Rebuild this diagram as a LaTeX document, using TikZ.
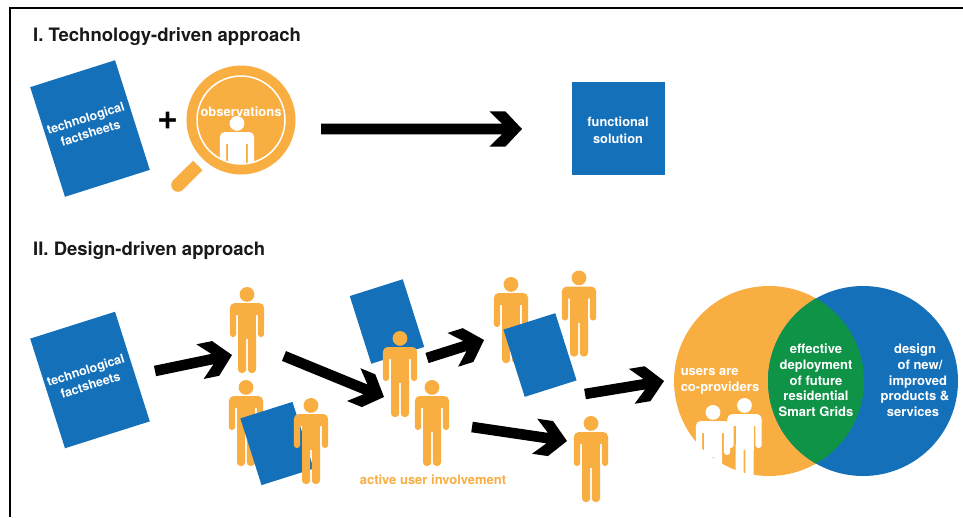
\documentclass[tikz,border=0pt]{standalone}
\usepackage{fontspec}
\setmainfont{TeX Gyre Heros}
\usetikzlibrary{calc}
\definecolor{figblue}{HTML}{1570BA}
\definecolor{figorange}{HTML}{F9AE42}
\definecolor{figgreen}{HTML}{0F9347}
\newcommand{\fatarrow}[2]{%
  \fill[fatarrowstyle]
    ($(#1)!5.3pt!90:(#2)$) -- ($(#2)!20pt!(#1)!5.3pt!90:(#2)$)
    -- ($(#2)!32.7pt!(#1)!17.7pt!90:(#2)$) -- ($(#2)!16.7pt!(#1)!17.7pt!90:(#2)$)
    -- (#2)
    -- ($(#2)!16.7pt!(#1)!17.7pt!-90:(#2)$) -- ($(#2)!32.7pt!(#1)!17.7pt!-90:(#2)$)
    -- ($(#2)!20pt!(#1)!5.3pt!-90:(#2)$) -- ($(#1)!5.3pt!-90:(#2)$) -- cycle;}
\tikzset{
  x=1pt,y=-1pt,
  fatarrowstyle/.style={black},
  title/.style={anchor=west,inner sep=0pt,font=\fontsize{18.5}{21}\selectfont\bfseries,text=black!90},
  sheet/.style={fill=figblue,inner sep=0pt,rotate=17.6,minimum width=#1},
  sheettext/.style={text=white,align=center,inner sep=0pt,font=\fontsize{12.5}{15.5}\selectfont\bfseries},
  vtext/.style={text=white,inner sep=0pt,font=\fontsize{13}{15.7}\selectfont\bfseries},
  pics/person/.style={code={
    \fill[#1] (0,7.4) circle (7.4);
    \fill[#1,rounded corners=5] (-17.2,16) rectangle (17.2,28);
    \fill[#1,rounded corners=3] (-17.2,20) rectangle (-10.9,50);
    \fill[#1,rounded corners=3] (10.9,20) rectangle (17.2,50);
    \fill[#1] (-9,16) rectangle (9,52);
    \fill[#1,rounded corners=3.6] (-9,44) rectangle (-0.8,86);
    \fill[#1,rounded corners=3.6] (0.8,44) rectangle (9,86);
  }}
}
\begin{document}
\begin{tikzpicture}
\useasboundingbox (0,0) rectangle (963,517);
\fill[white] (0,0) rectangle (963,517);
\draw[line width=1.7,black] (10,517) -- (10,8) -- (963,8);

\node[title] (t1) at (33,36.5) {I. Technology-driven approach};
\node[title] (t2) at (33,251) {II. Design-driven approach};

% top row
\node[sheet=89,minimum height=115] (s1) at (90,128.5) {};
\node[sheettext,rotate=17.6] (s1t) at (88,125.5) {technological\\factsheets};
\node[inner sep=0pt,font=\fontsize{36}{36}\selectfont\bfseries] (plus) at (168,121) {+};
\fill[figorange] (178,185) circle (6.8);
\draw[figorange,line width=13.4] (197.8,165.5) -- (178,185);
\fill[figorange] (241,120) circle (54.5);
\draw[white,line width=1.5] (241,120) circle (44);
\begin{scope}
  \clip (241,120) circle (43.5);
  \pic (obsp) at (237,116) {person=white};
\end{scope}
\node[vtext] (obs) at (241,112) {observations};
\node[fill=figblue,minimum size=93,inner sep=0pt] (fs) at (618.5,128.5) {};
\node[sheettext,font=\fontsize{12.8}{16.8}\selectfont\bfseries] (fst) at (618,130) {functional\\solution};
\coordinate (a1s) at (321,129);
\coordinate (a1e) at (522,129);
\fatarrow{a1s}{a1e}

% bottom row
\node[sheet=89,minimum height=115] (s2) at (90,380) {};
\node[sheettext,rotate=17.6] (s2t) at (88,377.5) {technological\\factsheets};

\pic (p1) at (247,287) {person=figorange};
\pic (p2) at (246,380) {person=figorange};
\node[sheet=54.7,minimum height=70] (s3) at (277,443.5) {};
\pic (p3) at (311,398) {person=figorange};
\node[sheet=55.6,minimum height=71] (s4) at (387,321.5) {};
\pic (p4) at (400,331) {person=figorange};
\pic (p5) at (432,380) {person=figorange};
\pic (p6) at (511,277) {person=figorange};
\pic (p7) at (579,270.5) {person=figorange};
\node[sheet=54.4,minimum height=70.5] (s5) at (540,355) {};
\pic (p8) at (591,416) {person=figorange};
\node[inner sep=0pt,text=figorange,font=\fontsize{13}{15}\selectfont\bfseries] (aui) at (433,479.5) {active user involvement};

\coordinate (a2s) at (155,371); \coordinate (a2e) at (232,355);
\coordinate (a3s) at (284,356); \coordinate (a3e) at (384,397);
\coordinate (a4s) at (427,358); \coordinate (a4e) at (484,340);
\coordinate (a5s) at (472,427); \coordinate (a5e) at (567,441);
\coordinate (a6s) at (585,394); \coordinate (a6e) at (664,381);
\fatarrow{a2s}{a2e}
\fatarrow{a3s}{a3e}
\fatarrow{a4s}{a4e}
\fatarrow{a5s}{a5e}
\fatarrow{a6s}{a6e}

% Venn
\fill[figorange] (769,381) circle (95);
\fill[figblue] (863,381) circle (95);
\begin{scope}
  \clip (769,381) circle (95);
  \fill[figgreen] (863,381) circle (95);
\end{scope}
\pic (v1) at (713,405) {person=white};
\pic (v2) at (744.5,398) {person=white};
\node[vtext,align=left] (vl) at (720,381) {users are\\co-providers};
\node[vtext,align=center] (vc) at (816,380.5) {effective\\deployment\\of future\\residential\\Smart Grids};
\node[vtext,align=center] (vr) at (915,380.5) {design\\\hspace*{10pt}of new/\\\hspace*{6pt}improved\\products \&\hspace*{8pt}\\services\hspace*{4pt}};
\end{tikzpicture}
\end{document}
